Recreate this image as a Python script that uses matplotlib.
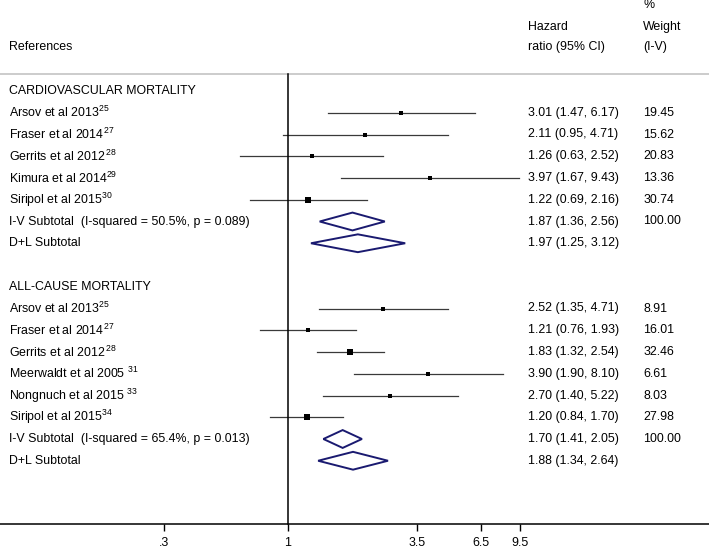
import numpy as np
import matplotlib
matplotlib.use("Agg")
import matplotlib.pyplot as plt
from matplotlib.patches import Polygon
from matplotlib.ticker import FixedLocator, FixedFormatter, NullLocator

plt.rcParams["font.family"] = ["Liberation Sans", "DejaVu Sans"]
plt.rcParams["mathtext.fontset"] = "custom"
plt.rcParams["mathtext.rm"] = "Liberation Sans"
plt.rcParams["mathtext.it"] = "Liberation Sans:italic"
plt.rcParams["mathtext.bf"] = "Liberation Sans:bold"

# cardiovascular mortality
cv_title = "CARDIOVASCULAR MORTALITY"
cv_names = ["Arsov et al 2013$^{25}$", "Fraser et al 2014$^{\\,27}$", "Gerrits et al 2012$^{\\,28}$",
            "Kimura et al 2014$^{29}$", "Siripol et al 2015$^{30}$"]
cv_hr = [3.01, 2.11, 1.26, 3.97, 1.22]
cv_lo = [1.47, 0.95, 0.63, 1.67, 0.69]
cv_hi = [6.17, 4.71, 2.52, 9.43, 2.16]
cv_wt = [19.45, 15.62, 20.83, 13.36, 30.74]
cv_iv = [1.87, 1.36, 2.56]
cv_dl = [1.97, 1.25, 3.12]
cv_iv_label = "I-V Subtotal  (I-squared = 50.5%, p = 0.089)"

# all-cause mortality
ac_title = "ALL-CAUSE MORTALITY"
ac_names = ["Arsov et al 2013$^{25}$", "Fraser et al 2014$^{\\,27}$", "Gerrits et al 2012$^{\\,28}$",
            "Meerwaldt et al 2005 $^{31}$", "Nongnuch et al 2015 $^{33}$", "Siripol et al 2015$^{34}$"]
ac_hr = [2.52, 1.21, 1.83, 3.90, 2.70, 1.20]
ac_lo = [1.35, 0.76, 1.32, 1.90, 1.40, 0.84]
ac_hi = [4.71, 1.93, 2.54, 8.10, 5.22, 1.70]
ac_wt = [8.91, 16.01, 32.46, 6.61, 8.03, 27.98]
ac_iv = [1.70, 1.41, 2.05]
ac_dl = [1.88, 1.34, 2.64]
ac_iv_label = "I-V Subtotal  (I-squared = 65.4%, p = 0.013)"

xticks = [0.3, 1, 3.5, 6.5, 9.5]
xticklabels = [".3", "1", "3.5", "6.5", "9.5"]

fig = plt.figure(figsize=(7.09, 5.5), dpi=100)
ax = fig.add_axes([0, 0, 1, 1])
ax.set_xscale("log")
# 103 px per log unit, x=1 at 288 px
ax.set_xlim(np.exp(-288 / 103), np.exp((709 - 288) / 103))
ax.set_ylim((550 - 91) / 21.75, -91 / 21.75)

fs = 8.9
tr = ax.get_yaxis_transform()
navy = "#1a1a70"
x_lab, x_hr, x_wt = 0.0127, 0.745, 0.907


def fmt(v):
    return "%.2f (%.2f, %.2f)" % (v[0], v[1], v[2])


def section(start, title, names, hr, lo, hi, wt, iv, dl, iv_label):
    ax.text(x_lab, start, title, transform=tr, fontsize=fs, va="center")
    for i in range(len(names)):
        y = start + 1 + i
        ax.text(x_lab, y, names[i], transform=tr, fontsize=fs, va="center")
        ax.plot([lo[i], hi[i]], [y, y], color="#3a3a3a", lw=0.9)
        ax.plot(hr[i], y, marker="s", ms=0.72 * (1.4 + 0.7 * np.sqrt(wt[i])), color="black", mew=0)
        ax.text(x_hr, y, fmt([hr[i], lo[i], hi[i]]), transform=tr, fontsize=fs, va="center")
        ax.text(x_wt, y, "%.2f" % wt[i], transform=tr, fontsize=fs, va="center")
    for j, (est, lab) in enumerate([(iv, iv_label), (dl, "D+L Subtotal")]):
        y = start + 1 + len(names) + j
        h = 0.41
        ax.add_patch(Polygon([[est[1], y], [est[0], y - h], [est[2], y], [est[0], y + h]],
                             closed=True, fill=False, edgecolor=navy, lw=1.4))
        ax.text(x_lab, y, lab, transform=tr, fontsize=fs, va="center")
        ax.text(x_hr, y, fmt(est), transform=tr, fontsize=fs, va="center")
        if j == 0:
            ax.text(x_wt, y, "100.00", transform=tr, fontsize=fs, va="center")


section(0, cv_title, cv_names, cv_hr, cv_lo, cv_hi, cv_wt, cv_iv, cv_dl, cv_iv_label)
section(9, ac_title, ac_names, ac_hr, ac_lo, ac_hi, ac_wt, ac_iv, ac_dl, ac_iv_label)

# headers
ax.text(x_lab, -2.02, "References", transform=tr, fontsize=fs, va="center")
ax.text(x_hr, -2.94, "Hazard", transform=tr, fontsize=fs, va="center")
ax.text(x_hr, -2.02, "ratio (95% CI)", transform=tr, fontsize=fs, va="center")
ax.text(x_wt, -3.95, "%", transform=tr, fontsize=fs, va="center")
ax.text(x_wt, -2.94, "Weight", transform=tr, fontsize=fs, va="center")
ax.text(x_wt, -2.02, "(I-V)", transform=tr, fontsize=fs, va="center")

axis_y = (524 - 91) / 21.75
ax.axhline(-0.78, color="#c8c8c8", lw=1.3)
ax.plot([1, 1], [-0.78, axis_y], color="black", lw=1.1)

for s in ["top", "right", "left"]:
    ax.spines[s].set_visible(False)
ax.spines["bottom"].set_position(("data", axis_y))
ax.spines["bottom"].set_linewidth(1.1)
ax.xaxis.set_major_locator(FixedLocator(xticks))
ax.xaxis.set_major_formatter(FixedFormatter(xticklabels))
ax.xaxis.set_minor_locator(NullLocator())
ax.tick_params(axis="x", direction="out", length=5, width=1, pad=4, labelsize=fs)
ax.set_yticks([])

fig.savefig("out.png", dpi=100)
